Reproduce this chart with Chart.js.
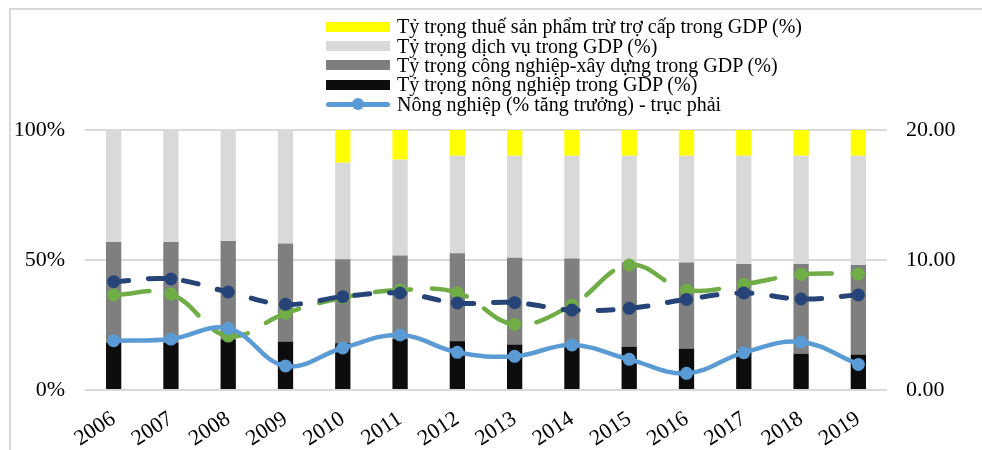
<!DOCTYPE html>
<html><head><meta charset="utf-8">
<script src="https://cdn.jsdelivr.net/npm/chart.js@4/dist/chart.umd.min.js"></script>
<style>
html,body{margin:0;padding:0;background:#fff;}
#wrap{position:relative;width:982px;height:450px;overflow:hidden;background:#fff;}
#frame{position:absolute;left:9px;top:8px;width:1200px;height:800px;border-top:2px solid #d9d9d9;border-left:2px solid #d9d9d9;}
canvas{position:absolute;left:0;top:0;}
#legend{position:absolute;left:326px;top:17px;font-family:'Liberation Serif','Times New Roman',serif;font-size:20px;color:#000;}
.row{display:flex;align-items:center;height:19.4px;white-space:nowrap;}
.sw{width:64px;height:10px;margin-right:7px;flex:none;}
.ln{position:relative;width:64px;height:12px;margin-right:7px;flex:none;}
.ln .bar{position:absolute;left:0;right:0;top:4px;height:4.5px;border-radius:3px;}
.ln .dot{position:absolute;left:26px;top:0;width:12px;height:12px;border-radius:50%;}
</style></head>
<body>
<div id="wrap">
<div id="frame"></div>
<canvas id="c" width="982" height="450"></canvas>
<div id="legend"></div>
</div>
<script>
const years = ['2006','2007','2008','2009','2010','2011','2012','2013','2014','2015','2016','2017','2018','2019'];
const agriShare     = [18.2, 18.2, 19.5, 18.6, 18.0, 19.6, 18.8, 17.5, 17.3, 16.7, 15.9, 15.0, 14.0, 13.6];
const industryShare = [38.7, 38.7, 37.8, 37.7, 32.3, 32.1, 33.8, 33.4, 33.3, 32.3, 33.1, 33.5, 34.5, 34.5];
const servicesShare = [43.1, 43.1, 42.7, 43.7, 37.1, 36.9, 37.5, 39.2, 39.5, 41.1, 41.1, 41.6, 41.6, 42.0];
const taxShare      = [0, 0, 0, 0, 12.6, 11.4, 9.9, 9.9, 9.9, 9.9, 9.9, 9.9, 9.9, 9.9];
const agriGrowth     = [3.79, 3.92, 4.74, 1.85, 3.23, 4.23, 2.90, 2.59, 3.46, 2.36, 1.28, 2.87, 3.69, 1.97];
const servicesGrowth = [8.33, 8.54, 7.54, 6.59, 7.18, 7.46, 6.69, 6.72, 6.15, 6.28, 6.97, 7.46, 7.00, 7.31];
const industryGrowth = [7.31, 7.38, 4.15, 5.90, 7.10, 7.69, 7.49, 5.05, 6.54, 9.62, 7.69, 8.13, 8.90, 8.92];
const leftTicks = [0, 50, 100];
const rightTicks = [0, 10, 20];

const labels = {
  tax: 'Tỷ trọng thuế sản phẩm trừ trợ cấp trong GDP (%)',
  services: 'Tỷ trọng dịch vụ trong GDP (%)',
  industry: 'Tỷ trọng công nghiệp-xây dựng trong GDP (%)',
  agri: 'Tỷ trọng nông nghiệp trong GDP (%)',
  agriG: 'Nông nghiệp (% tăng trưởng) - trục phải',
  indG: 'Công nghiệp-xây dựng (% tăng trưởng) - trục phải',
  servG: 'Dịch vụ (% tăng trưởng) - trục phải'
};
const colors = {tax:'#FFFF00', services:'#D9D9D9', industry:'#7F7F7F', agri:'#0D0D0D', agriG:'#5B9BD5', indG:'#70AD47', servG:'#264478'};
const font = {family:"'Liberation Serif','Times New Roman',serif", size:22};

const chart = new Chart(document.getElementById('c'), {
  type:'bar',
  data:{
    labels: years,
    datasets:[
      {type:'line', label:labels.agriG, data:agriGrowth, yAxisID:'y1', borderColor:colors.agriG, backgroundColor:colors.agriG,
       pointBackgroundColor:colors.agriG, borderWidth:4.5, pointRadius:6.5, pointBorderWidth:0, tension:0.4, order:1},
      {type:'line', label:labels.servG, data:servicesGrowth, yAxisID:'y1', borderColor:colors.servG, backgroundColor:colors.servG,
       pointBackgroundColor:colors.servG, borderWidth:5, borderDash:[15,20], borderCapStyle:'round', pointRadius:6.5, pointBorderWidth:0, tension:0.4, order:2},
      {type:'line', label:labels.indG, data:industryGrowth, yAxisID:'y1', borderColor:colors.indG, backgroundColor:colors.indG,
       pointBackgroundColor:colors.indG, borderWidth:4.5, borderDash:[36,21], borderCapStyle:'round', pointRadius:6.5, pointBorderWidth:0, tension:0.4, order:3},
      {label:labels.agri, data:agriShare, backgroundColor:colors.agri, stack:'s', yAxisID:'y', order:10, barPercentage:0.267, categoryPercentage:1},
      {label:labels.industry, data:industryShare, backgroundColor:colors.industry, stack:'s', yAxisID:'y', order:11, barPercentage:0.267, categoryPercentage:1},
      {label:labels.services, data:servicesShare, backgroundColor:colors.services, stack:'s', yAxisID:'y', order:12, barPercentage:0.267, categoryPercentage:1},
      {label:labels.tax, data:taxShare, backgroundColor:colors.tax, stack:'s', yAxisID:'y', order:13, barPercentage:0.267, categoryPercentage:1}
    ]
  },
  options:{
    responsive:false, animation:false,
    layout:{padding:{top:130, left:0, right:0, bottom:0}},
    plugins:{legend:{display:false}, tooltip:{enabled:false}},
    scales:{
      x:{stacked:true, grid:{display:false}, border:{display:false},
         ticks:{font:font, color:'#000', minRotation:33, maxRotation:33, padding:8, autoSkip:false},
         afterFit(s){ s.height = 60; }},
      y:{stacked:true, position:'left', min:0, max:100,
         afterBuildTicks(s){ s.ticks = leftTicks.map(v=>({value:v})); },
         ticks:{font:font, color:'#000', padding:20, callback:v=>v+'%'},
         grid:{color:'#d9d9d9', lineWidth:2, drawTicks:false}, border:{display:false},
         afterFit(s){ s.width = 85; }},
      y1:{position:'right', min:0, max:20,
         afterBuildTicks(s){ s.ticks = rightTicks.map(v=>({value:v})); },
         ticks:{font:font, color:'#000', padding:19, callback:v=>Number(v).toFixed(2)},
         grid:{display:false, drawTicks:false}, border:{display:false},
         afterFit(s){ s.width = 95; }}
    }
  }
});

// HTML legend (first five entries, as in the reference)
const legendItems = [
  {t:'box', key:'tax'}, {t:'box', key:'services'}, {t:'box', key:'industry'}, {t:'box', key:'agri'}, {t:'line', key:'agriG'}
];
const lg = document.getElementById('legend');
legendItems.forEach(it=>{
  const r = document.createElement('div'); r.className='row';
  let sw;
  if(it.t==='box'){ sw = document.createElement('div'); sw.className='sw'; sw.style.background=colors[it.key]; }
  else { sw = document.createElement('div'); sw.className='ln';
    const b=document.createElement('div'); b.className='bar'; b.style.background=colors[it.key];
    const d=document.createElement('div'); d.className='dot'; d.style.background=colors[it.key];
    sw.appendChild(b); sw.appendChild(d); }
  const tx = document.createElement('span'); tx.textContent = labels[it.key];
  r.appendChild(sw); r.appendChild(tx); lg.appendChild(r);
});
</script>
</body></html>
